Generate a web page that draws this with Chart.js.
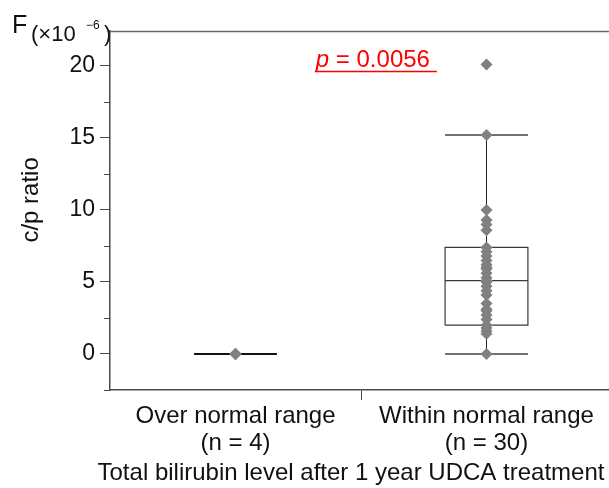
<!DOCTYPE html>
<html>
<head>
<meta charset="utf-8">
<script src="https://cdn.jsdelivr.net/npm/chart.js@4/dist/chart.umd.min.js"></script>
<style>
  html, body { margin: 0; padding: 0; background: #fff; overflow: hidden; }
  #wrap { width: 618px; height: 488px; }
</style>
</head>
<body>
<div id="wrap"><canvas id="c" width="618" height="488"></canvas></div>
<script>
// ---- data -------------------------------------------------------------------
const categories   = [['Over normal range', '(n = 4)'], ['Within normal range', '(n = 30)']];
const catCenters   = [0.5, 1.5];
const overValues   = [0, 0, 0, 0];
const withinValues = [20.1, 15.2, 10.0, 9.3, 9.0, 8.6, 7.4, 7.1, 6.8, 6.5,
                      6.2, 6.0, 5.9, 5.6, 5.3, 5.1, 5.0, 4.7, 4.4, 4.1,
                      3.5, 3.1, 3.0, 2.7, 2.4, 2.0, 1.8, 1.6, 1.4, 0.0];
// box summaries per category
const whiskerLow  = [0, 0.0];
const q1          = [0, 2.0];
const median      = [0, 5.1];
const q3          = [0, 7.4];
const whiskerHigh = [0, 15.2];

const yMajorTicks = [0, 5, 10, 15, 20];
const yMinorTicks = [-2.5, 2.5, 7.5, 12.5, 17.5];
const Y_MIN = -2.5, Y_MAX = 22.43;

const pValueText = '0.0056';
const xTitle = 'Total bilirubin level after 1 year UDCA treatment';
const yTitle = 'c/p ratio';

const FONT  = '"Liberation Sans", Arial, Helvetica, sans-serif';
const DOT   = '#808080';
const BOXC  = '#3a3a3a';
const CAPC  = '#707070';
const AXISC = '#4a4a4a';
const TEXTC = '#111';
const HALF  = 0.165;

// ---- build datasets ---------------------------------------------------------
function seg(x0, x1, y0, y1) { return [{ x: x0, y: y0 }, { x: x1, y: y1 }]; }
function lineDs(data, color, width) {
  return { type: 'line', data, borderColor: color, borderWidth: width,
           pointRadius: 0, showLine: true, tension: 0, fill: false };
}

const pointSets = [overValues, withinValues].map((vals, i) => ({
  type: 'scatter',
  data: vals.map(v => ({ x: catCenters[i], y: v })),
  pointStyle: 'rectRot', pointRadius: 6, pointHoverRadius: 6,
  backgroundColor: DOT, borderColor: DOT, borderWidth: 0,
}));

const medianSets = [], boxSets = [], whiskerSets = [], capSets = [];
catCenters.forEach((cx, i) => {
  const l = cx - HALF, r = cx + HALF;
  medianSets.push(lineDs(seg(l, r, median[i], median[i]), i === 0 ? '#111' : BOXC, i === 0 ? 2 : 1.2));
  if (q3[i] > q1[i]) {
    boxSets.push(lineDs([{ x: l, y: q1[i] }, { x: r, y: q1[i] }, { x: r, y: q3[i] },
                         { x: l, y: q3[i] }, { x: l, y: q1[i] }], BOXC, 1.2));
  }
  if (whiskerHigh[i] > q3[i]) {
    whiskerSets.push(lineDs(seg(cx, cx, q3[i], whiskerHigh[i]), '#222', 1));
    capSets.push(lineDs(seg(l, r, whiskerHigh[i], whiskerHigh[i]), CAPC, 2));
  }
  if (whiskerLow[i] < q1[i]) {
    whiskerSets.push(lineDs(seg(cx, cx, whiskerLow[i], q1[i]), '#222', 1));
    capSets.push(lineDs(seg(l, r, whiskerLow[i], whiskerLow[i]), CAPC, 2));
  }
});

// ---- decorations: frame top line, minor ticks, titles, unit label, p value --
const decorPlugin = {
  id: 'decor',
  afterDraw(chart) {
    const { ctx, chartArea: a, scales: { x, y } } = chart;
    ctx.save();
    // top frame line
    ctx.strokeStyle = '#6a6a6a';
    ctx.lineWidth = 1.5;
    ctx.beginPath();
    ctx.moveTo(a.left, a.top + 0.5);
    ctx.lineTo(a.right, a.top + 0.5);
    ctx.stroke();
    // minor y ticks
    ctx.strokeStyle = AXISC;
    ctx.lineWidth = 1;
    yMinorTicks.forEach(v => {
      const py = Math.round(y.getPixelForValue(v)) + 0.5;
      ctx.beginPath();
      ctx.moveTo(a.left - 6, py);
      ctx.lineTo(a.left, py);
      ctx.stroke();
    });
    ctx.fillStyle = TEXTC;
    ctx.textBaseline = 'alphabetic';
    // axis titles
    ctx.font = '24px ' + FONT;
    ctx.textAlign = 'center';
    ctx.fillText(xTitle, x.getPixelForValue(0.96), 480);
    ctx.save();
    ctx.translate(38, y.getPixelForValue(10.7));
    ctx.rotate(-Math.PI / 2);
    ctx.fillText(yTitle, 0, 0);
    ctx.restore();
    // unit label F (x10^-6)
    ctx.textAlign = 'left';
    ctx.font = '25px ' + FONT;
    ctx.fillText('F', 12, 33);
    ctx.font = '22px ' + FONT;
    ctx.fillText('(\u00d710', 31, 41);
    ctx.font = '12px ' + FONT;
    ctx.fillText('\u22126', 86, 29);
    ctx.font = '22px ' + FONT;
    ctx.fillText(')', 104, 41);
    // p value
    const px = x.getPixelForValue(0.82);
    const py = y.getPixelForValue(19.9);
    ctx.fillStyle = '#ff0000';
    ctx.font = 'italic 24px ' + FONT;
    ctx.fillText('p', px, py);
    const wp = ctx.measureText('p').width;
    ctx.font = '24px ' + FONT;
    const rest = ' = ' + pValueText;
    ctx.fillText(rest, px + wp, py);
    const wr = ctx.measureText(rest).width;
    ctx.strokeStyle = '#ff0000';
    ctx.lineWidth = 1.5;
    ctx.beginPath();
    ctx.moveTo(px - 1, py + 4);
    ctx.lineTo(px + wp + wr + 7, py + 4);
    ctx.stroke();
    ctx.restore();
  },
};

// ---- chart ------------------------------------------------------------------
new Chart(document.getElementById('c').getContext('2d'), {
  type: 'scatter',
  data: { datasets: [...pointSets, ...medianSets, ...whiskerSets, ...boxSets, ...capSets] },
  plugins: [decorPlugin],
  options: {
    responsive: false,
    animation: false,
    layout: { padding: { top: 31, left: 0, right: 0, bottom: 0 } },
    plugins: { legend: { display: false }, tooltip: { enabled: false } },
    scales: {
      x: {
        type: 'linear', min: 0, max: 2,
        afterBuildTicks(s) { s.ticks = [{ value: 0.5 }, { value: 1 }, { value: 1.5 }]; },
        afterFit(s) { s.height = 98; },
        border: { color: AXISC, width: 1.5 },
        grid: {
          drawOnChartArea: false, tickLength: 10,
          tickColor: c => (c.tick && c.tick.value === 1 ? AXISC : 'rgba(0,0,0,0)'),
        },
        ticks: {
          autoSkip: false, maxRotation: 0, padding: 3, color: TEXTC,
          font: { size: 24, family: FONT, lineHeight: 1.12 },
          callback: v => { const i = catCenters.indexOf(v); return i >= 0 ? categories[i] : ''; },
        },
      },
      y: {
        type: 'linear', min: Y_MIN, max: Y_MAX,
        afterBuildTicks(s) { s.ticks = yMajorTicks.map(v => ({ value: v })); },
        afterFit(s) { s.width = 110; },
        border: { color: AXISC, width: 1.5 },
        grid: { drawOnChartArea: false, tickLength: 10, tickColor: AXISC },
        ticks: { padding: 5, color: TEXTC, font: { size: 23, family: FONT } },
      },
    },
  },
});
</script>
</body>
</html>
